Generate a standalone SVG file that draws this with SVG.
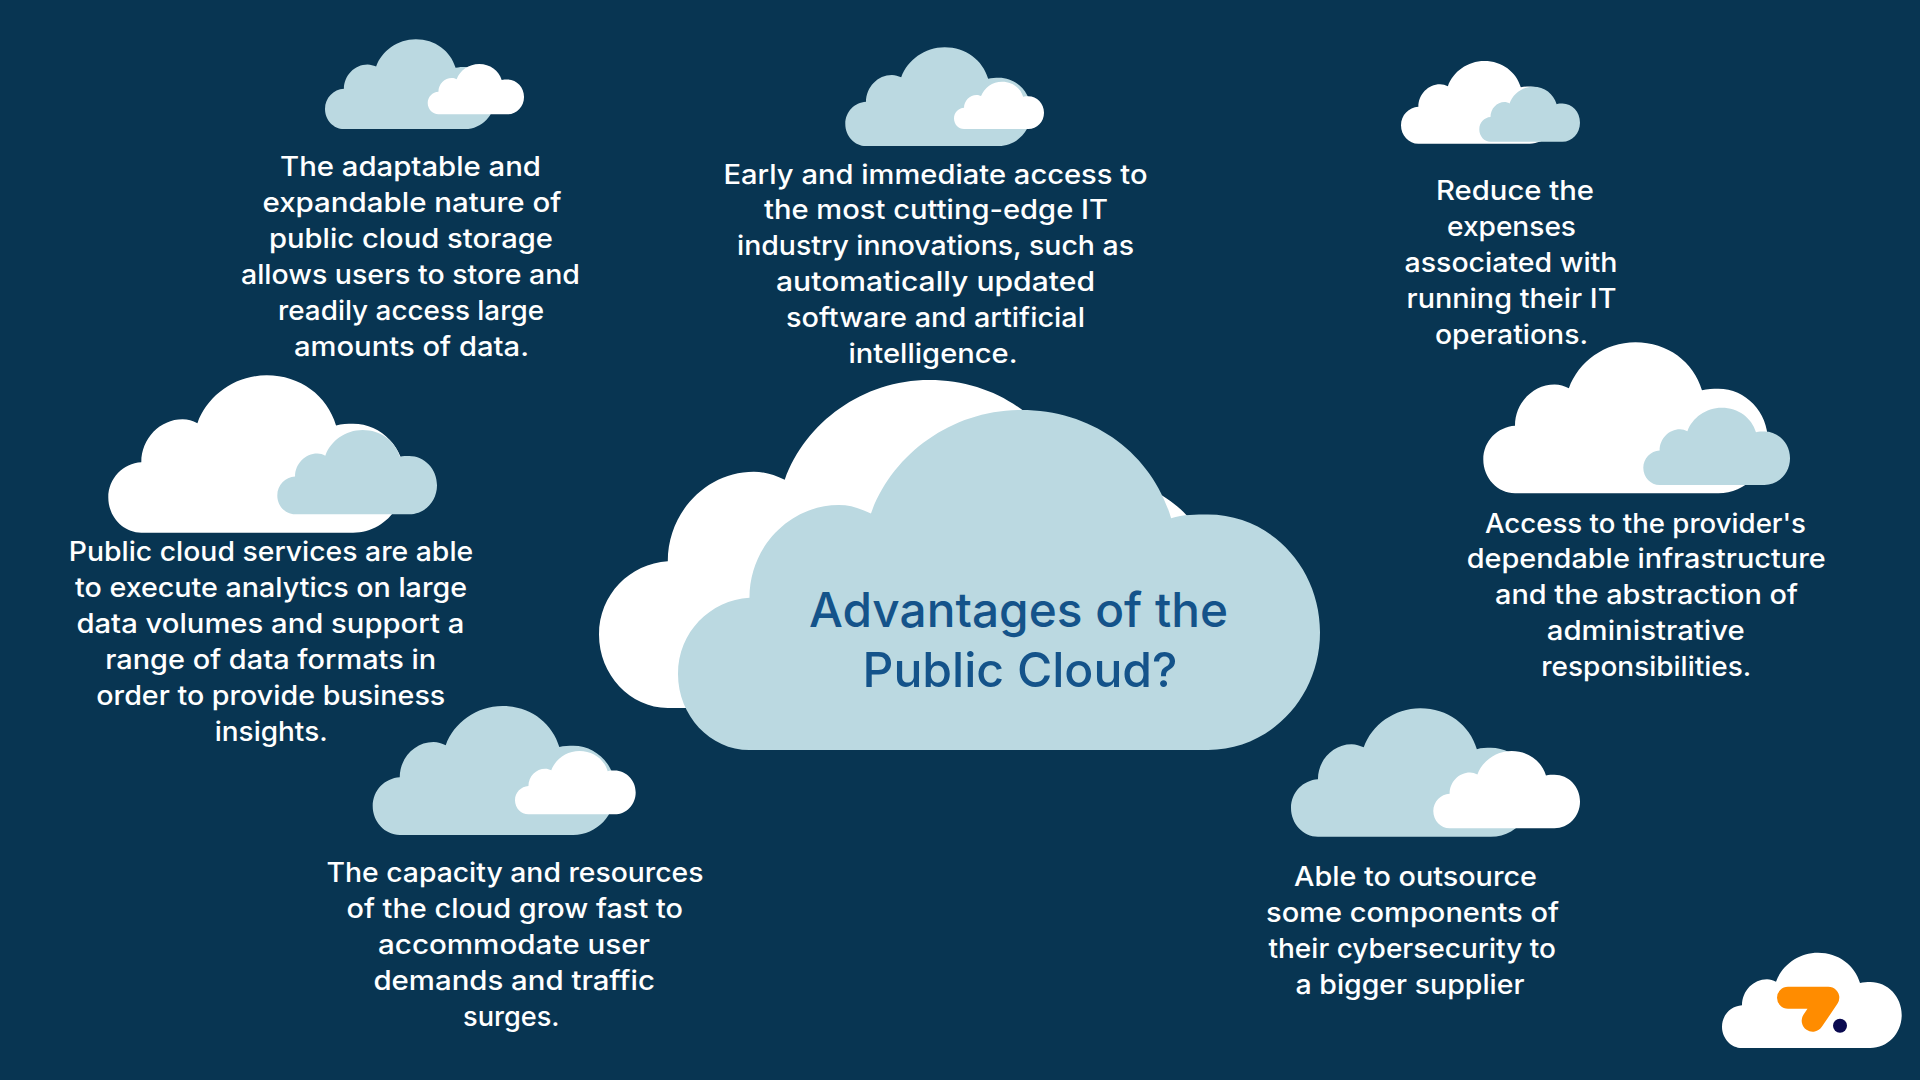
<svg xmlns="http://www.w3.org/2000/svg" width="1920" height="1080" viewBox="0 0 1920 1080">
<style>
.light{fill:#bbd9e1}
.white{fill:#ffffff}
.t{font-family:"Inter","Open Sans","Liberation Sans",sans-serif;font-size:27px;font-weight:500;fill:#ffffff;text-anchor:middle}
.title{font-family:"Inter","Open Sans","Liberation Sans",sans-serif;font-size:48px;font-weight:500;fill:#14538a;text-anchor:middle}
</style>
<defs>
<path id="cloud" d="M60 286C27 286 0 257 0 222C0 187 27 160 60 158C60 115 94 80 135 80C145 80 153 83 162 87C180 37 230 0 288 0C349 0 398 37 414 91C424 88 435 88 445 88C497 88 539 132 539 187C539 242 497 286 445 286Z"/>
</defs>
<rect width="1920" height="1080" fill="#083552"/>
<g id="center">
<use href="#cloud" class="white" transform="translate(599 380) scale(1.1466 1.1469)"/>
<use href="#cloud" class="light" transform="translate(678 410) scale(1.1911 1.1888)"/>
<text class="title" x="1018.5" y="627.2" textLength="419" lengthAdjust="spacingAndGlyphs">Advantages of the</text>
<text class="title" x="1020" y="687.2" textLength="315" lengthAdjust="spacingAndGlyphs">Public Cloud?</text>
</g>
<g id="node-storage">
<use href="#cloud" class="light" transform="translate(325 39.3) scale(.3154 .3136)"/>
<use href="#cloud" class="white" transform="translate(427.7 64) scale(.1787 .1759)"/>
<text class="t" x="410.5" y="175.5" textLength="261" lengthAdjust="spacingAndGlyphs">The adaptable and</text>
<text class="t" x="412" y="211.5" textLength="299" lengthAdjust="spacingAndGlyphs">expandable nature of</text>
<text class="t" x="411" y="247.5" textLength="284" lengthAdjust="spacingAndGlyphs">public cloud storage</text>
<text class="t" x="410.5" y="283.5" textLength="339" lengthAdjust="spacingAndGlyphs">allows users to store and</text>
<text class="t" x="411" y="319.5" textLength="266" lengthAdjust="spacingAndGlyphs">readily access large</text>
<text class="t" x="411.5" y="355.5" textLength="235" lengthAdjust="spacingAndGlyphs">amounts of data.</text>
</g>
<g id="node-innovation">
<use href="#cloud" class="light" transform="translate(845.3 47.3) scale(.3451 .3451)"/>
<use href="#cloud" class="white" transform="translate(954 81.7) scale(.167 .1654)"/>
<text class="t" x="935.5" y="183.6" textLength="424" lengthAdjust="spacingAndGlyphs">Early and immediate access to</text>
<text class="t" x="936" y="219.4" textLength="344" lengthAdjust="spacingAndGlyphs">the most cutting-edge IT</text>
<text class="t" x="935.5" y="255.2" textLength="397" lengthAdjust="spacingAndGlyphs">industry innovations, such as</text>
<text class="t" x="935.5" y="291" textLength="319" lengthAdjust="spacingAndGlyphs">automatically updated</text>
<text class="t" x="935.5" y="326.8" textLength="299" lengthAdjust="spacingAndGlyphs">software and artificial</text>
<text class="t" x="933" y="362.6" textLength="169" lengthAdjust="spacingAndGlyphs">intelligence.</text>
</g>
<g id="node-expenses">
<use href="#cloud" class="white" transform="translate(1401 61) scale(.2894 .2892)"/>
<use href="#cloud" class="light" transform="translate(1479.3 86.7) scale(.1868 .1923)"/>
<text class="t" x="1515" y="199.5" textLength="158" lengthAdjust="spacingAndGlyphs">Reduce the</text>
<text class="t" x="1511.5" y="235.5" textLength="129" lengthAdjust="spacingAndGlyphs">expenses</text>
<text class="t" x="1511" y="271.5" textLength="213" lengthAdjust="spacingAndGlyphs">associated with</text>
<text class="t" x="1511.5" y="307.5" textLength="210" lengthAdjust="spacingAndGlyphs">running their IT</text>
<text class="t" x="1511.5" y="343.5" textLength="153" lengthAdjust="spacingAndGlyphs">operations.</text>
</g>
<g id="node-infrastructure">
<use href="#cloud" class="white" transform="translate(1483.3 342.3) scale(.5282 .528)"/>
<use href="#cloud" class="light" transform="translate(1643.3 407.7) scale(.2722 .2703)"/>
<text class="t" x="1645.5" y="532.7" textLength="321" lengthAdjust="spacingAndGlyphs">Access to the provider's</text>
<text class="t" x="1646.2" y="568.4" textLength="359" lengthAdjust="spacingAndGlyphs">dependable infrastructure</text>
<text class="t" x="1646.5" y="604.1" textLength="303" lengthAdjust="spacingAndGlyphs">and the abstraction of</text>
<text class="t" x="1645.8" y="640.3" textLength="198" lengthAdjust="spacingAndGlyphs">administrative</text>
<text class="t" x="1646.3" y="676.3" textLength="210" lengthAdjust="spacingAndGlyphs">responsibilities.</text>
</g>
<g id="node-analytics">
<use href="#cloud" class="white" transform="translate(108.3 375.3) scale(.5501 .5503)"/>
<use href="#cloud" class="light" transform="translate(277.3 430) scale(.2963 .2948)"/>
<text class="t" x="271" y="561" textLength="404.4" lengthAdjust="spacingAndGlyphs">Public cloud services are able</text>
<text class="t" x="271" y="597" textLength="392" lengthAdjust="spacingAndGlyphs">to execute analytics on large</text>
<text class="t" x="270.4" y="633" textLength="388" lengthAdjust="spacingAndGlyphs">data volumes and support a</text>
<text class="t" x="270.7" y="669" textLength="331" lengthAdjust="spacingAndGlyphs">range of data formats in</text>
<text class="t" x="270.8" y="705" textLength="349" lengthAdjust="spacingAndGlyphs">order to provide business</text>
<text class="t" x="271.2" y="741" textLength="113" lengthAdjust="spacingAndGlyphs">insights.</text>
</g>
<g id="node-capacity">
<use href="#cloud" class="light" transform="translate(372.7 706) scale(.4508 .451)"/>
<use href="#cloud" class="white" transform="translate(515 751) scale(.2239 .2213)"/>
<text class="t" x="515" y="882" textLength="377" lengthAdjust="spacingAndGlyphs">The capacity and resources</text>
<text class="t" x="514.7" y="918" textLength="336.5" lengthAdjust="spacingAndGlyphs">of the cloud grow fast to</text>
<text class="t" x="514" y="954" textLength="272" lengthAdjust="spacingAndGlyphs">accommodate user</text>
<text class="t" x="514.2" y="990" textLength="281.5" lengthAdjust="spacingAndGlyphs">demands and traffic</text>
<text class="t" x="511.3" y="1026" textLength="96.6" lengthAdjust="spacingAndGlyphs">surges.</text>
</g>
<g id="node-security">
<use href="#cloud" class="light" transform="translate(1291 708.3) scale(.449 .449)"/>
<use href="#cloud" class="white" transform="translate(1433.3 751) scale(.2722 .2703)"/>
<text class="t" x="1415.5" y="886" textLength="243" lengthAdjust="spacingAndGlyphs">Able to outsource</text>
<text class="t" x="1412.5" y="922" textLength="293" lengthAdjust="spacingAndGlyphs">some components of</text>
<text class="t" x="1412.2" y="958" textLength="287.5" lengthAdjust="spacingAndGlyphs">their cybersecurity to</text>
<text class="t" x="1410" y="994" textLength="229" lengthAdjust="spacingAndGlyphs">a bigger supplier</text>
</g>
<g id="logo">
<use href="#cloud" class="white" transform="translate(1722 952.7) scale(.3334 .3332)"/>
<polyline points="1788,997.7 1828.3,997.7 1812.7,1020.7" fill="none" stroke="#ff8c00" stroke-width="22" stroke-linecap="round" stroke-linejoin="round"/>
<circle cx="1840" cy="1025.7" r="7" fill="#0a0a50"/>
</g>
</svg>
